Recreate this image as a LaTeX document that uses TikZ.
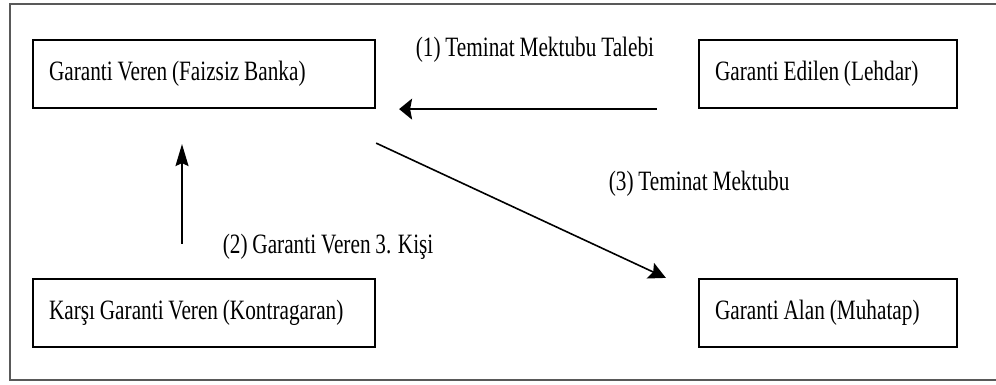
\documentclass[tikz,border=0pt]{standalone}
\usepackage{fontspec}
\setmainfont{Liberation Serif}[FakeStretch=0.76,WordSpace=0.9]
\usetikzlibrary{arrows.meta}
\begin{document}
\begin{tikzpicture}[x=1pt,y=-1pt,line width=1.6pt,
  every node/.style={font=\fontsize{28}{32}\selectfont},
  kutu/.style={draw,line width=2.2pt,minimum height=68pt,inner xsep=16pt,inner ysep=0pt,
    align=left,execute at begin node={\spaceskip=0pt\xspaceskip=0pt}},
  etiket/.style={anchor=base west,inner sep=0pt}]
\useasboundingbox (0,0) rectangle (996,385);
\draw[line width=2pt,black!65] (996,4) -- (10,4) -- (10,380) -- (996,380);
\node[kutu,text width=310pt] (v1) at (204,74) {Garanti Veren (Faizsiz Banka)};
\node[kutu,text width=226pt] (v2) at (828,74) {Garanti Edilen (Lehdar)};
\node[kutu,text width=310pt] (v3) at (204,313) {Karşı Garanti Veren (Kontragaran)};
\node[kutu,text width=226pt] (v4) at (828,313) {Garanti Alan (Muhatap)};
\draw[-{Stealth[length=13pt,width=21pt,inset=2pt]},shorten <=41pt,shorten >=23pt] (v2.south west) -- (v1.south east);
\draw[-{Stealth[length=17pt,width=17pt,inset=3pt]}] ([yshift=-34pt]v1.south east) -- ([xshift=-32pt]v4.north west);
\draw[-{Stealth[length=22pt,width=13pt,inset=3pt]},shorten <=34pt,shorten >=35pt] ([xshift=-22pt]v3.north) -- ([xshift=-22pt]v1.south);
\node[etiket] (t1) at (415,57) {(1) Teminat Mektubu Talebi};
\node[etiket] (t2) at (222,253) {(2) Garanti Veren 3. Kişi};
\node[etiket] (t3) at (608,190) {(3) Teminat Mektubu};
\end{tikzpicture}
\end{document}
